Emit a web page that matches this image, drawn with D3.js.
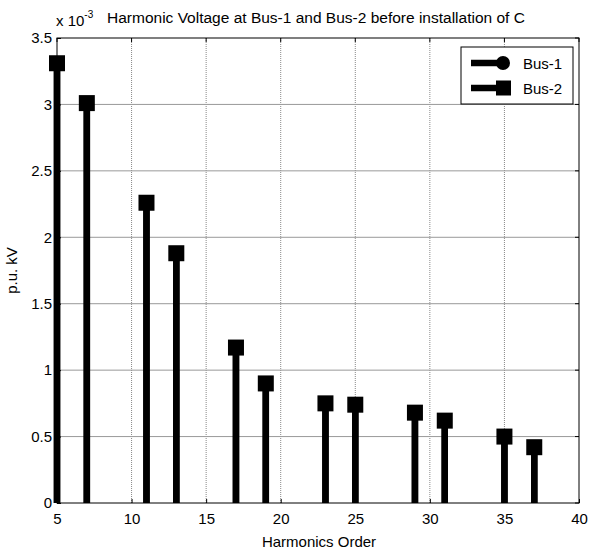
<!DOCTYPE html>
<html><head><meta charset="utf-8">
<script src="https://cdn.jsdelivr.net/npm/d3@7"></script>
<style>body{margin:0;background:#fff}svg{display:block;font-family:"Liberation Sans",Arial,sans-serif}</style>
</head><body><svg id="c" width="589" height="552"></svg>
<script>
const harmonics = [5,7,11,13,17,19,23,25,29,31,35,37];
const bus1 = [3.31,3.01,2.26,1.88,1.17,0.90,0.75,0.74,0.68,0.62,0.50,0.42];
const bus2 = [3.31,3.01,2.26,1.88,1.17,0.90,0.75,0.74,0.68,0.62,0.50,0.42];
const xTicks = [5,10,15,20,25,30,35,40];
const yTicks = [0,0.5,1,1.5,2,2.5,3,3.5];
const seriesNames = ["Bus-1","Bus-2"];

const FS = 15;
const svg = d3.select("#c");
const L=57,R=579,T=38,B=503;
const x = d3.scaleLinear().domain([5,40]).range([L,R]);
const y = d3.scaleLinear().domain([0,3.5]).range([B,T]);

svg.append("g").selectAll("line").data(xTicks.slice(1,-1)).join("line")
  .attr("x1",d=>x(d)).attr("x2",d=>x(d)).attr("y1",T).attr("y2",B)
  .attr("stroke","#888").attr("stroke-width",1).attr("stroke-dasharray","1,1");
svg.append("g").selectAll("line").data(yTicks.slice(1,-1)).join("line")
  .attr("y1",d=>y(d)).attr("y2",d=>y(d)).attr("x1",L).attr("x2",R)
  .attr("stroke","#999").attr("stroke-width",1);

function stems(data, shape){
  const g = svg.append("g");
  g.selectAll("line").data(harmonics).join("line")
    .attr("x1",(d)=>x(d)).attr("x2",d=>x(d)).attr("y1",y(0))
    .attr("y2",(d,i)=>y(data[i])).attr("stroke","#000").attr("stroke-width",6.5);
  if(shape==="circle"){
    g.selectAll("circle").data(harmonics).join("circle")
      .attr("cx",d=>x(d)).attr("cy",(d,i)=>y(data[i])).attr("r",7).attr("fill","#000");
  } else {
    g.selectAll("rect").data(harmonics).join("rect")
      .attr("x",d=>x(d)-8).attr("y",(d,i)=>y(data[i])-8).attr("width",16).attr("height",16).attr("fill","#000");
  }
}
stems(bus1,"circle");
stems(bus2,"square");

svg.append("rect").attr("x",L).attr("y",T).attr("width",R-L).attr("height",B-T)
  .attr("fill","none").attr("stroke","#000").attr("stroke-width",1);

const xa = svg.append("g").attr("transform",`translate(0,${B})`)
  .call(d3.axisBottom(x).tickValues(xTicks).tickSize(-4).tickPadding(10).tickFormat(d3.format("d")));
const ya = svg.append("g").attr("transform",`translate(${L},0)`)
  .call(d3.axisLeft(y).tickValues(yTicks).tickSize(-4).tickPadding(5).tickFormat(d=>String(d)));
[xa,ya].forEach(a=>{a.select(".domain").remove();a.selectAll("text").attr("font-size",FS).attr("fill","#000").attr("font-family","Liberation Sans, Arial, sans-serif");a.selectAll("line").attr("stroke","#000");});
svg.append("g").selectAll("line").data(xTicks).join("line")
  .attr("x1",d=>x(d)).attr("x2",d=>x(d)).attr("y1",T).attr("y2",T+4).attr("stroke","#000");
svg.append("g").selectAll("line").data(yTicks).join("line")
  .attr("y1",d=>y(d)).attr("y2",d=>y(d)).attr("x1",R).attr("x2",R-4).attr("stroke","#000");

svg.append("text").attr("x",(L+R)/2+1).attr("y",547).attr("text-anchor","middle").attr("font-size",FS).text("Harmonics Order");
svg.append("text").attr("transform",`translate(17,${(T+B)/2}) rotate(-90)`).attr("text-anchor","middle").attr("font-size",FS).text("p.u. kV");
const ex = svg.append("text").attr("x",56).attr("y",26).attr("font-size",FS);
ex.append("tspan").text("x 10");
ex.append("tspan").attr("dy",-8).attr("font-size",10).text("-3");
svg.append("text").attr("x",107).attr("y",23).attr("font-size",15.5).text("Harmonic Voltage at Bus-1 and Bus-2 before installation of C");

const lg = svg.append("g");
lg.append("rect").attr("x",461).attr("y",47).attr("width",112).attr("height",57).attr("fill","#fff").attr("stroke","#000");
seriesNames.forEach((n,i)=>{
  const cy = 63 + i*25;
  lg.append("line").attr("x1",471).attr("x2",503).attr("y1",cy).attr("y2",cy).attr("stroke","#000").attr("stroke-width",6.5);
  if(i===0) lg.append("circle").attr("cx",503).attr("cy",cy).attr("r",7).attr("fill","#000");
  else lg.append("rect").attr("x",496).attr("y",cy-7.5).attr("width",15).attr("height",15).attr("fill","#000");
  lg.append("text").attr("x",523).attr("y",cy+5.5).attr("font-size",FS).text(n);
});
</script></body></html>
